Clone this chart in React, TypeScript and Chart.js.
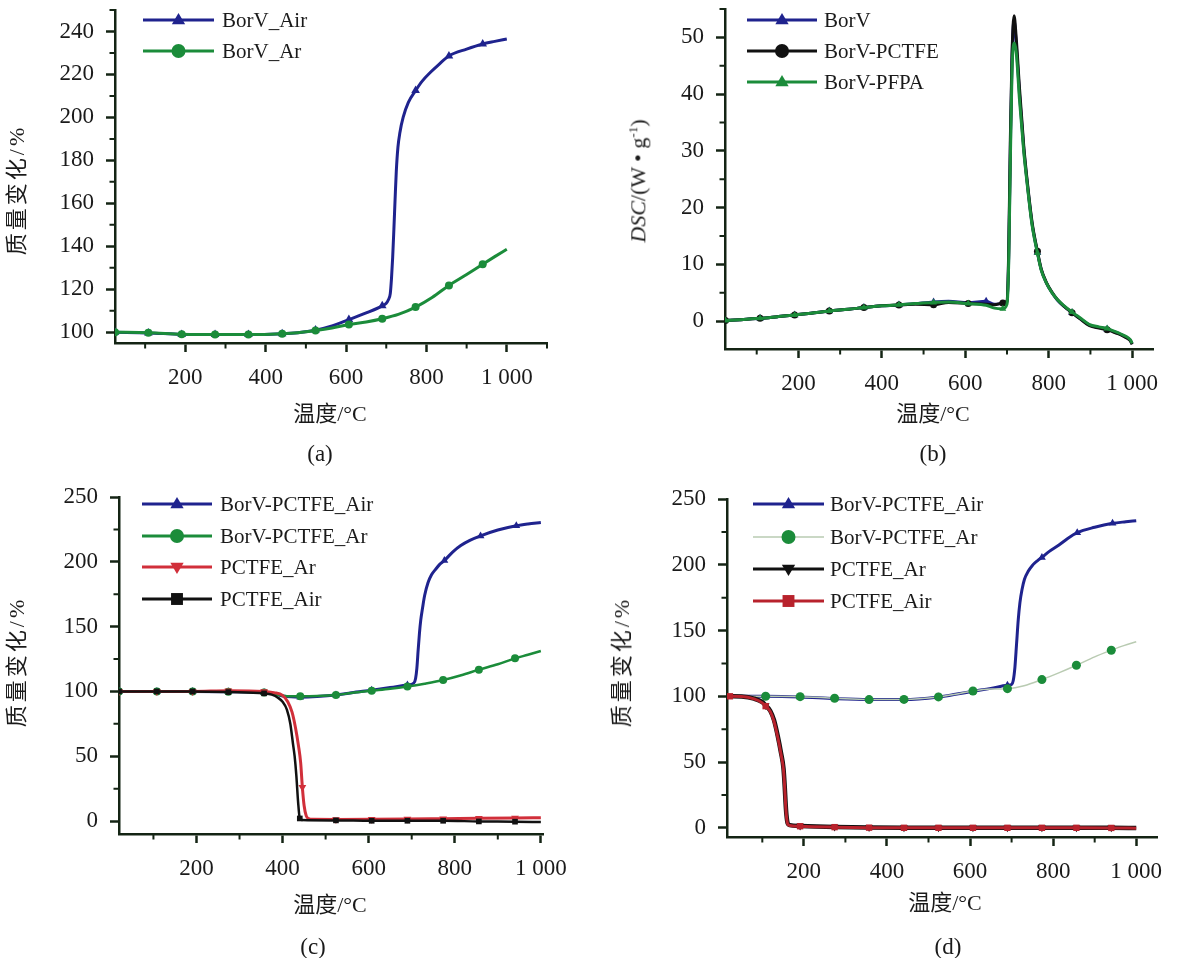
import React, { useEffect, useRef } from "react";
import { Chart, registerables } from "chart.js";

Chart.register(...registerables);

// ---------------- data ----------------
// marker temperatures
const A_MARKS = [25, 108, 191, 274, 357, 441, 524, 607, 690, 773, 856, 940];

// (a) TG, BorV
const A_T_AIR = [25, 108, 191, 274, 357, 441, 480, 524, 565, 607, 650, 690, 700, 705, 710, 713, 716, 719, 722, 725, 729, 734, 742, 755, 773, 790, 810, 830, 856, 900, 940, 970, 1000];
const A_V_AIR = [100, 99.7, 99.0, 98.9, 98.9, 99.3, 99.8, 101.0, 103.0, 105.9, 109.0, 112.3, 113.5, 115.0, 118, 125, 135, 148, 162, 175, 186, 193, 200, 207, 212.5, 217, 221, 224.5, 228.6, 231.8, 234.2, 235.4, 236.5];
const A_T_AR = [25, 108, 191, 274, 357, 441, 480, 524, 565, 607, 650, 690, 730, 773, 815, 856, 900, 940, 970, 1000];
const A_V_AR = [100, 99.8, 99.1, 98.9, 98.9, 99.3, 99.8, 100.8, 102.0, 103.6, 104.8, 106.3, 108.3, 111.7, 116.3, 121.8, 126.9, 131.7, 135.2, 138.6];

// (b) DSC
const B_T = [25, 60, 108, 150, 191, 230, 274, 320, 357, 400, 441, 480, 524, 560, 607, 650, 670, 690, 700, 704, 708, 712, 717, 722, 730, 740, 748, 760, 773, 782, 794, 808, 821, 837, 856, 875, 898, 920, 940, 955, 966, 980, 990, 996, 1000];
const B_V_BORV = [0.1, 0.25, 0.5, 0.8, 1.1, 1.4, 1.8, 2.1, 2.4, 2.7, 2.85, 3.1, 3.4, 3.5, 3.3, 3.5, 3.0, 3.1, 3.4, 11, 30, 46, 53, 49, 40, 30.5, 24.7, 17.2, 12.1, 9.1, 6.8, 5.0, 3.7, 2.6, 1.5, 0.5, -0.7, -1.1, -1.4, -1.8, -2.1, -2.6, -3.0, -3.4, -4.0];
const B_V_PCTFE = [0.1, 0.25, 0.5, 0.8, 1.1, 1.4, 1.8, 2.1, 2.4, 2.7, 2.85, 3.0, 2.9, 3.3, 3.1, 3.0, 2.9, 3.2, 3.6, 12, 32, 47, 53.8, 50, 41, 31, 25, 17.5, 12.3, 9.2, 6.9, 5.1, 3.8, 2.6, 1.5, 0.4, -0.8, -1.2, -1.5, -1.9, -2.2, -2.7, -3.1, -3.5, -4.1];
const B_V_PFPA = [0.1, 0.25, 0.5, 0.8, 1.1, 1.4, 1.8, 2.1, 2.4, 2.7, 2.9, 3.1, 3.3, 3.4, 3.1, 2.8, 2.3, 2.2, 3.0, 10, 28, 44, 49, 47.5, 39, 30, 24.4, 17, 12, 9, 6.8, 5, 3.8, 2.7, 1.6, 0.6, -0.6, -1.0, -1.3, -1.7, -2.0, -2.5, -2.9, -3.3, -3.9];
const B_MARKS_BORV = [108, 191, 274, 357, 441, 524, 650, 773, 856, 940];

// (c) TG, BorV-PCTFE and PCTFE
const C_T_BAIR = [20, 108, 191, 274, 357, 380, 400, 420, 441, 480, 524, 560, 607, 650, 690, 705, 709, 712, 715, 718, 721, 725, 730, 738, 746, 755, 765, 776, 795, 814, 835, 860, 900, 943, 970, 1000];
const C_V_BAIR = [100, 100, 100, 99.8, 99.2, 98, 96.5, 95.8, 95.6, 96, 97.2, 99, 101, 103, 105, 106.5, 110, 118, 132, 145, 155, 164, 174, 184, 190, 194, 198, 201, 207.5, 212.5, 216.5, 220, 224.5, 227.8, 229.2, 230.4];
const C_T_BAR = [20, 108, 191, 274, 357, 380, 400, 420, 441, 480, 524, 560, 607, 650, 690, 730, 773, 815, 856, 900, 940, 970, 1000];
const C_V_BAR = [100, 100, 100, 99.8, 99.2, 98, 96.7, 96.2, 96.2, 96.4, 97.2, 98.8, 100.5, 102, 103.8, 106, 108.8, 112.5, 116.8, 121, 125.5, 128.3, 131.2];
const C_T_PAR = [20, 108, 191, 274, 357, 380, 400, 412, 422, 430, 437, 442, 446, 450, 455, 460, 470, 524, 607, 690, 773, 856, 940, 1000];
const C_V_PAR = [100, 100, 100, 100.5, 100, 99, 97, 92, 84, 72, 58, 45, 26, 12, 4, 2, 1.3, 1.2, 1.3, 1.5, 1.8, 2.1, 2.4, 2.6];
const C_T_PAIR = [20, 108, 191, 274, 357, 375, 390, 400, 410, 418, 424, 428, 432, 436, 440, 445, 524, 607, 690, 773, 856, 940, 1000];
const C_V_PAIR = [100, 100, 100, 99.5, 98.5, 97.5, 95, 92, 86, 75, 60, 50, 35, 15, 2, 0.8, 0.5, 0.2, 0.2, 0.2, -0.3, -0.5, -0.8];
const C_MARKS_BAIR = [20, 108, 191, 274, 357, 441, 524, 607, 690, 776, 860, 943];
const C_MARKS_BAR = [20, 108, 191, 274, 357, 441, 524, 607, 690, 773, 856, 940];
const C_MARKS_PAR = [20, 108, 191, 274, 357, 446, 524, 607, 690, 773, 856, 940];
const C_MARKS_PAIR = [20, 108, 191, 274, 357, 440, 524, 607, 690, 773, 856, 940];

// (d) TG
const D_T_BAIR = [15, 108, 191, 274, 357, 441, 524, 565, 607, 650, 690, 700, 704, 708, 712, 716, 720, 725, 731, 740, 750, 762, 773, 790, 814, 835, 858, 900, 943, 975, 1000];
const D_V_BAIR = [100, 100, 99.5, 98.2, 97.5, 97.5, 99.5, 101.5, 103.8, 106, 108.4, 109, 112, 122, 140, 158, 171, 181, 189, 195, 199.5, 203, 205.6, 210, 215, 220, 224.4, 228.5, 231.5, 232.7, 233.5];
const D_T_BAR = [15, 108, 191, 274, 357, 441, 524, 565, 607, 650, 690, 730, 773, 815, 856, 900, 940, 970, 1000];
const D_V_BAR = [100, 100, 99.7, 98.5, 97.5, 97.6, 99.5, 101.5, 104, 105.5, 105.8, 108, 112.7, 118, 123.6, 130, 135, 138.5, 141.5];
const D_T_P = [22, 50, 80, 100, 108, 119, 128, 137, 145, 151, 154, 156, 158, 161, 166, 191, 274, 357, 441, 524, 607, 690, 773, 856, 940, 1000];
const D_V_PAR = [100, 99.8, 98.2, 95.5, 93, 89, 82, 70, 57, 45, 31, 19, 10, 3.5, 2, 1.4, 0.6, 0.2, 0.1, 0.1, 0.1, 0.1, 0.1, 0.1, 0, -0.2];
const D_V_PAIR = [100, 99.8, 98, 95, 92.5, 88.5, 81, 69, 56, 44, 30, 18, 9, 3, 1.8, 1.2, 0.5, 0.1, 0, 0, 0, 0, 0, 0, -0.1, -0.3];
const D_MARKS_BAIR = [108, 191, 274, 357, 441, 524, 607, 690, 773, 858, 943];
const D_MARKS_BAR = [108, 191, 274, 357, 441, 524, 607, 690, 773, 856, 940];
const D_MARKS_PAR = [108, 191, 274, 357, 441, 524, 607, 690, 773, 856, 940];
const D_MARKS_PAIR = [22, 108, 191, 274, 357, 441, 524, 607, 690, 773, 856, 940];

// axis ticks
const X_MAJOR = [200, 400, 600, 800, 1000];
const X_MINOR_A = [100, 300, 500, 700, 900, 1100];
const X_MINOR = [100, 300, 500, 700, 900];
const A_Y_MAJOR = [100, 120, 140, 160, 180, 200, 220, 240];
const A_Y_MINOR = [110, 130, 150, 170, 190, 210, 230, 250];
const B_Y_MAJOR = [0, 10, 20, 30, 40, 50];
const B_Y_MINOR = [5, 15, 25, 35, 45, 55];
const CD_Y_MAJOR = [0, 50, 100, 150, 200, 250];
const CD_Y_MINOR = [25, 75, 125, 175, 225];

// ---------------- styles ----------------
const AX = "#142414";
const TXT = "#1a1a1a";
const SERIF = "'Liberation Serif', 'DejaVu Serif', serif";
const CJKFONT = "'Liberation Serif', 'Noto Sans CJK SC', serif";
const BLUE = "#1f238e";
const GREEN = "#1b8c3a";
const RED = "#d12f3a";
const DRED = "#b8222c";
const BLACK = "#111111";
const LIGHTGREEN = "#b9cbb2";

const YW = 62;
const XH = 50;

function drawMarker(ctx: CanvasRenderingContext2D, style: string, x: number, y: number, r: number, color: string) {
  ctx.fillStyle = color;
  ctx.beginPath();
  if (style === "circle") {
    ctx.arc(x, y, r, 0, Math.PI * 2);
  } else if (style === "rect") {
    ctx.rect(x - r * 0.85, y - r * 0.85, r * 1.7, r * 1.7);
  } else if (style === "triangle") {
    ctx.moveTo(x, y - r);
    ctx.lineTo(x + r * 0.95, y + r * 0.6);
    ctx.lineTo(x - r * 0.95, y + r * 0.6);
    ctx.closePath();
  } else {
    ctx.moveTo(x, y + r);
    ctx.lineTo(x + r * 0.95, y - r * 0.6);
    ctx.lineTo(x - r * 0.95, y - r * 0.6);
    ctx.closePath();
  }
  ctx.fill();
}

type Series = {
  label: string;
  T: number[];
  V: number[];
  color: string;
  markerColor?: string;
  lw: number;
  style: string;
  marks: number[];
  r: number;
  order: number;
  legendLw?: number;
};

function makeDataset(s: Series) {
  const set = new Set(s.marks);
  const mc = s.markerColor || s.color;
  return {
    label: s.label,
    data: s.T.map((t, i) => ({ x: t, y: s.V[i] })),
    borderColor: s.color,
    backgroundColor: mc,
    borderWidth: s.lw,
    pointStyle: s.style === "down" ? "triangle" : s.style,
    pointRotation: s.style === "down" ? 180 : 0,
    pointRadius: (c: any) => (c.raw && set.has(c.raw.x) ? s.r : 0),
    pointHoverRadius: 0,
    pointBorderWidth: 0,
    pointBackgroundColor: mc,
    cubicInterpolationMode: "monotone",
    order: s.order,
  };
}

type Spec = {
  cv: { left: number; top: number; w: number; h: number };
  area: { left: number; top: number; right: number; bottom: number };
  x: { min: number; max: number; major: number[]; minor: number[] };
  y: { min: number; max: number; major: number[]; minor: number[] };
  series: Series[];
  legend: { x1: number; x2: number; tx: number; ys: number[]; r: number };
};

function fmt(v: number) {
  return v === 1000 ? "1 000" : String(v);
}

function buildConfig(sp: Spec): any {
  const pad = {
    left: sp.area.left - sp.cv.left - YW,
    top: sp.area.top - sp.cv.top,
    right: sp.cv.left + sp.cv.w - sp.area.right,
    bottom: sp.cv.top + sp.cv.h - sp.area.bottom - XH,
  };
  const minorPlugin = {
    id: "minorTicks",
    afterDraw(chart: any) {
      const { ctx, chartArea } = chart;
      const xs = chart.scales.x;
      const ys = chart.scales.y;
      ctx.save();
      ctx.strokeStyle = AX;
      ctx.lineWidth = 2;
      ctx.beginPath();
      sp.x.minor.forEach((v) => {
        const p = xs.getPixelForValue(v);
        ctx.moveTo(p, chartArea.bottom);
        ctx.lineTo(p, chartArea.bottom + 5.5);
      });
      sp.y.minor.forEach((v) => {
        const p = ys.getPixelForValue(v);
        ctx.moveTo(chartArea.left, p);
        ctx.lineTo(chartArea.left - 5.5, p);
      });
      ctx.stroke();
      ctx.restore();
    },
  };
  const legendPlugin = {
    id: "seriesLegend",
    afterDatasetsDraw(chart: any) {
      const ctx: CanvasRenderingContext2D = chart.ctx;
      const L = sp.legend;
      ctx.save();
      sp.series.forEach((s, i) => {
        const y = L.ys[i] - sp.cv.top;
        const x1 = L.x1 - sp.cv.left;
        const x2 = L.x2 - sp.cv.left;
        ctx.strokeStyle = s.color;
        ctx.lineWidth = s.legendLw || 3;
        ctx.beginPath();
        ctx.moveTo(x1, y);
        ctx.lineTo(x2, y);
        ctx.stroke();
        drawMarker(ctx, s.style, (x1 + x2) / 2, y, L.r, s.markerColor || s.color);
        ctx.fillStyle = TXT;
        ctx.font = `21px ${SERIF}`;
        ctx.textBaseline = "middle";
        ctx.textAlign = "left";
        ctx.fillText(s.label, L.tx - sp.cv.left, y + 1);
      });
      ctx.restore();
    },
  };
  const tickFont = { family: SERIF, size: 23 };
  return {
    type: "line",
    data: { datasets: sp.series.map(makeDataset) },
    plugins: [minorPlugin, legendPlugin],
    options: {
      animation: false,
      responsive: false,
      maintainAspectRatio: false,
      events: [],
      layout: { padding: pad },
      plugins: { legend: { display: false }, tooltip: { enabled: false }, title: { display: false } },
      scales: {
        x: {
          type: "linear",
          min: sp.x.min,
          max: sp.x.max,
          afterFit: (s: any) => {
            s.height = XH;
            s.paddingLeft = 0;
            s.paddingRight = 0;
            s.paddingTop = 0;
            s.paddingBottom = 0;
          },
          afterBuildTicks: (s: any) => {
            s.ticks = sp.x.major.map((v) => ({ value: v }));
          },
          grid: { drawOnChartArea: false, drawTicks: true, tickLength: 9, tickWidth: 2.5, tickColor: AX },
          border: { display: true, color: AX, width: 2.5 },
          ticks: { font: tickFont, color: TXT, padding: 12, maxRotation: 0, autoSkip: false, callback: (v: any) => fmt(Number(v)) },
        },
        y: {
          type: "linear",
          min: sp.y.min,
          max: sp.y.max,
          afterFit: (s: any) => {
            s.width = YW;
            s.paddingLeft = 0;
            s.paddingRight = 0;
            s.paddingTop = 0;
            s.paddingBottom = 0;
          },
          afterBuildTicks: (s: any) => {
            s.ticks = sp.y.major.map((v) => ({ value: v }));
          },
          grid: { drawOnChartArea: false, drawTicks: true, tickLength: 9, tickWidth: 2.5, tickColor: AX },
          border: { display: true, color: AX, width: 2.5 },
          ticks: { font: tickFont, color: TXT, padding: 12, autoSkip: false, callback: (v: any) => fmt(Number(v)) },
        },
      },
    },
  };
}

// ---------------- panels ----------------
const SPEC_A: Spec = {
  cv: { left: 0, top: 0, w: 590, h: 470 },
  area: { left: 115, top: 10, right: 547, bottom: 343 },
  x: { min: 25, max: 1100, major: X_MAJOR, minor: X_MINOR_A },
  y: { min: 95, max: 250, major: A_Y_MAJOR, minor: A_Y_MINOR },
  series: [
    { label: "BorV_Air", T: A_T_AIR, V: A_V_AIR, color: BLUE, lw: 3, style: "triangle", marks: A_MARKS, r: 5, order: 1 },
    { label: "BorV_Ar", T: A_T_AR, V: A_V_AR, color: GREEN, lw: 3, style: "circle", marks: A_MARKS, r: 4, order: 0 },
  ],
  legend: { x1: 143, x2: 214, tx: 222, ys: [20, 51], r: 7 },
};

const SPEC_B: Spec = {
  cv: { left: 590, top: 0, w: 587, h: 470 },
  area: { left: 725, top: 9, right: 1153, bottom: 349 },
  x: { min: 24, max: 1050, major: X_MAJOR, minor: X_MINOR },
  y: { min: -4.9, max: 55, major: B_Y_MAJOR, minor: B_Y_MINOR },
  series: [
    { label: "BorV", T: B_T, V: B_V_BORV, color: BLUE, lw: 3, style: "triangle", marks: B_MARKS_BORV, r: 4.5, order: 2 },
    { label: "BorV-PCTFE", T: B_T, V: B_V_PCTFE, color: BLACK, lw: 3, style: "circle", marks: A_MARKS, r: 3.5, order: 1 },
    { label: "BorV-PFPA", T: B_T, V: B_V_PFPA, color: GREEN, lw: 3, style: "triangle", marks: A_MARKS, r: 4, order: 0 },
  ],
  legend: { x1: 747, x2: 817, tx: 824, ys: [20, 51, 82], r: 7 },
};

const SPEC_C: Spec = {
  cv: { left: 0, top: 470, w: 590, h: 488 },
  area: { left: 119, top: 497, right: 543, bottom: 834 },
  x: { min: 20, max: 1005, major: X_MAJOR, minor: X_MINOR },
  y: { min: -10, max: 250, major: CD_Y_MAJOR, minor: CD_Y_MINOR },
  series: [
    { label: "BorV-PCTFE_Air", T: C_T_BAIR, V: C_V_BAIR, color: BLUE, lw: 3, style: "triangle", marks: C_MARKS_BAIR, r: 4.5, order: 3 },
    { label: "BorV-PCTFE_Ar", T: C_T_BAR, V: C_V_BAR, color: GREEN, lw: 2.5, style: "circle", marks: C_MARKS_BAR, r: 4, order: 2 },
    { label: "PCTFE_Ar", T: C_T_PAR, V: C_V_PAR, color: RED, lw: 3, style: "down", marks: C_MARKS_PAR, r: 4.5, order: 1 },
    { label: "PCTFE_Air", T: C_T_PAIR, V: C_V_PAIR, color: BLACK, lw: 2.5, style: "rect", marks: C_MARKS_PAIR, r: 4, order: 0 },
  ],
  legend: { x1: 142, x2: 212, tx: 220, ys: [504, 536, 567, 599], r: 7 },
};

const SPEC_D: Spec = {
  cv: { left: 590, top: 470, w: 587, h: 488 },
  area: { left: 727, top: 499, right: 1157, bottom: 837 },
  x: { min: 15, max: 1050, major: X_MAJOR, minor: X_MINOR },
  y: { min: -7, max: 250, major: CD_Y_MAJOR, minor: CD_Y_MINOR },
  series: [
    { label: "BorV-PCTFE_Air", T: D_T_BAIR, V: D_V_BAIR, color: BLUE, lw: 3, style: "triangle", marks: D_MARKS_BAIR, r: 4.5, order: 3 },
    { label: "BorV-PCTFE_Ar", T: D_T_BAR, V: D_V_BAR, color: LIGHTGREEN, markerColor: GREEN, lw: 1.5, legendLw: 1.5, style: "circle", marks: D_MARKS_BAR, r: 4.5, order: 2 },
    { label: "PCTFE_Ar", T: D_T_P, V: D_V_PAR, color: BLACK, lw: 4.5, style: "down", marks: D_MARKS_PAR, r: 4.5, order: 1 },
    { label: "PCTFE_Air", T: D_T_P, V: D_V_PAIR, color: DRED, lw: 3, style: "rect", marks: D_MARKS_PAIR, r: 4.5, order: 0 },
  ],
  legend: { x1: 753, x2: 824, tx: 830, ys: [504, 537, 569, 601], r: 7 },
};

function Panel({ spec }: { spec: Spec }) {
  const ref = useRef<HTMLCanvasElement | null>(null);
  useEffect(() => {
    if (!ref.current) return;
    const chart = new Chart(ref.current, buildConfig(spec));
    return () => chart.destroy();
  }, [spec]);
  return (
    <canvas
      ref={ref}
      width={spec.cv.w}
      height={spec.cv.h}
      style={{ position: "absolute", left: spec.cv.left, top: spec.cv.top, width: spec.cv.w, height: spec.cv.h }}
    />
  );
}

function Label({ cx, cy, size = 22, rotate = false, spacing = 0, children }: { cx: number; cy: number; size?: number; rotate?: boolean; spacing?: number; children: any }) {
  return (
    <div
      style={{
        position: "absolute",
        left: cx,
        top: cy,
        transform: `translate(-50%, -50%)${rotate ? " rotate(-90deg)" : ""}`,
        whiteSpace: "nowrap",
        fontFamily: CJKFONT,
        fontSize: size,
        letterSpacing: spacing,
        color: TXT,
        lineHeight: 1,
      }}
    >
      {children}
    </div>
  );
}

export default function App() {
  return (
    <div style={{ position: "absolute", left: 0, top: 0, width: 1177, height: 958, background: "#fff", overflow: "hidden" }}>
      <Panel spec={SPEC_A} />
      <Panel spec={SPEC_B} />
      <Panel spec={SPEC_C} />
      <Panel spec={SPEC_D} />

      <Label cx={17} cy={190} size={22} spacing={3} rotate>质量变化/%</Label>
      <Label cx={638} cy={181} size={22} rotate>
        <i>DSC</i>/(W • g<sup style={{ fontSize: 13 }}>-1</sup>)
      </Label>
      <Label cx={17} cy={662} size={22} spacing={3} rotate>质量变化/%</Label>
      <Label cx={622} cy={662} size={22} spacing={3} rotate>质量变化/%</Label>

      <Label cx={330} cy={414}>温度/°C</Label>
      <Label cx={933} cy={414}>温度/°C</Label>
      <Label cx={330} cy={905}>温度/°C</Label>
      <Label cx={945} cy={903}>温度/°C</Label>

      <Label cx={320} cy={453} size={23}>(a)</Label>
      <Label cx={933} cy={453} size={23}>(b)</Label>
      <Label cx={313} cy={946} size={23}>(c)</Label>
      <Label cx={948} cy={946} size={23}>(d)</Label>
    </div>
  );
}
